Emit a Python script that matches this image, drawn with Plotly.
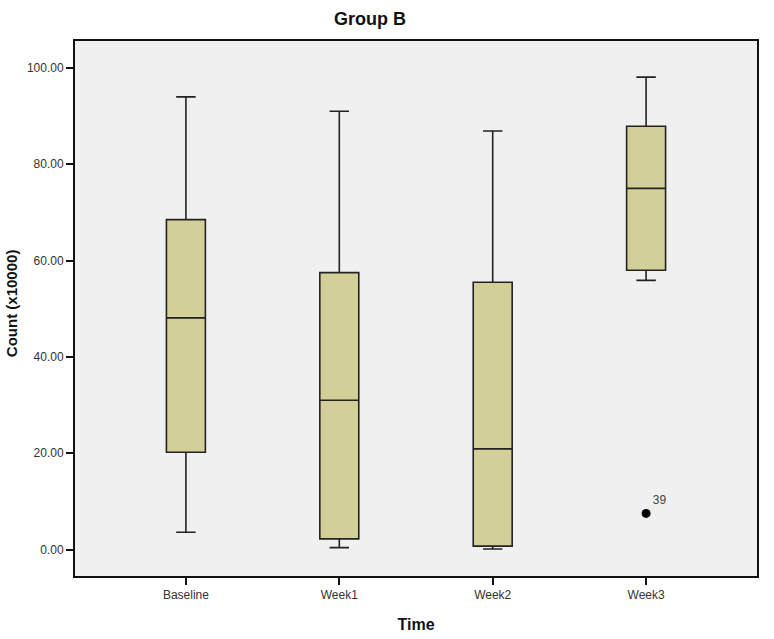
import plotly.graph_objects as go

categories = ["Baseline", "Week1", "Week2", "Week3"]
upper_whisker = [94.0, 91.0, 86.9, 98.1]
q3_values = [68.5, 57.5, 55.5, 87.9]
medians = [48.1, 31.0, 20.9, 75.0]
q1_values = [20.2, 2.2, 0.7, 58.0]
lower_whisker = [3.6, 0.4, 0.1, 55.9]
outlier_cat = ["Week3"]
outlier_val = [7.5]
outlier_label = ["39"]
y_ticks = [0, 20, 40, 60, 80, 100]

W, H = 774, 639
ML, MR, MT, MB = 75, 17, 41, 63
PW = W - ML - MR

fig = go.Figure()
fig.add_trace(go.Box(
    x=categories,
    q1=q1_values, median=medians, q3=q3_values,
    lowerfence=lower_whisker, upperfence=upper_whisker,
    boxpoints=False,
    width=0.254,
    whiskerwidth=0.5,
    fillcolor="#D3CF99",
    line=dict(color="#222222", width=1.6),
    showlegend=False,
    hoverinfo="skip",
))
fig.add_trace(go.Scatter(
    x=outlier_cat, y=outlier_val, mode="markers+text",
    marker=dict(color="black", size=9),
    text=outlier_label, textposition="top right",
    textfont=dict(family="Liberation Sans, Arial", size=12, color="#444444"),
    showlegend=False, hoverinfo="skip",
))

fig.update_layout(
    width=W, height=H,
    margin=dict(l=ML, r=MR, t=MT, b=MB),
    paper_bgcolor="white",
    plot_bgcolor="#F0F0F0",
    font=dict(family="Liberation Sans, Arial", size=12, color="#333333"),
    title=dict(text="<b>Group B</b>", x=370 / W, xanchor="center",
               y=1 - 19 / H, yanchor="middle",
               font=dict(size=18, color="#111111")),
    annotations=[dict(
        text="<b>Count (x10000)</b>", textangle=-90,
        xref="paper", yref="paper", x=(11 - ML) / PW, y=0.51,
        xanchor="center", yanchor="middle", showarrow=False,
        font=dict(size=15, color="#111111"),
    )],
)
fig.update_xaxes(
    type="category", categoryorder="array", categoryarray=categories,
    range=[-0.723, 3.723], automargin=False,
    showline=True, linecolor="#111111", linewidth=2, mirror=True,
    ticks="outside", ticklen=7, tickcolor="#111111", tickwidth=1.5,
    showgrid=False, zeroline=False,
    tickfont=dict(size=12, color="#333333"),
    title=dict(text="<b>Time</b>", font=dict(size=16, color="#111111"), standoff=17),
)
fig.update_yaxes(
    range=[-5.5, 105.6], automargin=False,
    tickvals=y_ticks, tickformat=".2f",
    showline=True, linecolor="#111111", linewidth=2, mirror=True,
    ticks="outside", ticklen=7, tickcolor="#111111", tickwidth=1.5,
    showgrid=False, zeroline=False,
    tickfont=dict(size=12, color="#333333"),
)

fig.write_html("out.html", config={"displayModeBar": False},
               post_script="document.body.style.margin='0';")
